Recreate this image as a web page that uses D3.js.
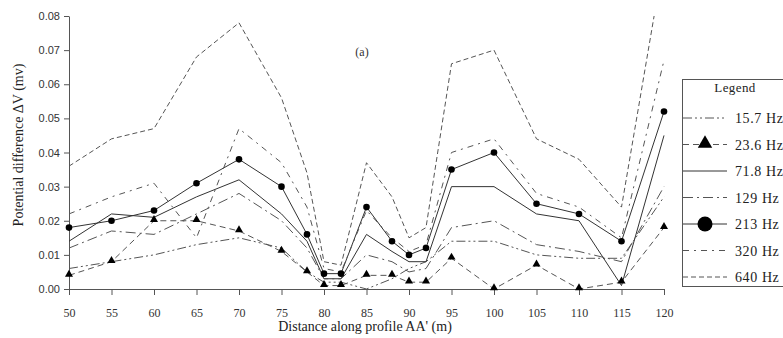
<!DOCTYPE html>
<html>
<head>
<meta charset="utf-8">
<script src="https://cdn.jsdelivr.net/npm/d3@7"></script>
<style>
  body { margin: 0; background: #fff; }
  svg { display: block; }
</style>
</head>
<body>
<div id="chart"></div>
<script>
// Potential difference along profile AA'

var distances = [50, 55, 60, 65, 70, 75, 78, 80, 82, 85, 88, 90, 92, 95, 100, 105, 110, 115, 120];

var hz15_7 = [0.006, 0.008, 0.010, 0.013, 0.015, 0.012, 0.005, 0.002, 0.002, 0.000, 0.003, 0.006, 0.008, 0.014, 0.014, 0.010, 0.009, 0.009, 0.027];
var hz23_6 = [0.004, 0.008, 0.020, 0.020, 0.017, 0.011, 0.005, 0.001, 0.001, 0.004, 0.004, 0.002, 0.002, 0.009, 0.000, 0.007, 0.000, 0.002, 0.018];
var hz71_8 = [0.014, 0.022, 0.021, 0.027, 0.032, 0.022, 0.014, 0.003, 0.003, 0.016, 0.011, 0.008, 0.008, 0.030, 0.030, 0.022, 0.020, 0.001, 0.045];
var hz129  = [0.012, 0.017, 0.016, 0.022, 0.028, 0.020, 0.012, 0.003, 0.003, 0.010, 0.008, 0.005, 0.006, 0.018, 0.020, 0.013, 0.011, 0.008, 0.030];
var hz213  = [0.018, 0.020, 0.023, 0.031, 0.038, 0.030, 0.016, 0.0045, 0.0045, 0.024, 0.014, 0.010, 0.012, 0.035, 0.040, 0.025, 0.022, 0.014, 0.052];
var hz320  = [0.022, 0.027, 0.031, 0.015, 0.047, 0.037, 0.024, 0.006, 0.005, 0.023, 0.015, 0.011, 0.013, 0.040, 0.044, 0.028, 0.024, 0.015, 0.067];
var hz640  = [0.036, 0.044, 0.047, 0.068, 0.078, 0.056, 0.034, 0.008, 0.007, 0.037, 0.027, 0.015, 0.018, 0.066, 0.070, 0.044, 0.038, 0.024, 0.097];

var seriesNames = ["15.7 Hz", "23.6 Hz", "71.8 Hz", "129 Hz", "213 Hz", "320 Hz", "640 Hz"];
var xTicks = [50, 55, 60, 65, 70, 75, 80, 85, 90, 95, 100, 105, 110, 115, 120];
var yTicks = [0, 0.01, 0.02, 0.03, 0.04, 0.05, 0.06, 0.07, 0.08];

var series = [
    {name: seriesNames[0], values: hz15_7, dash: "9,3,2,3,2,3", marker: null},
    {name: seriesNames[1], values: hz23_6, dash: "6,4", marker: "triangle"},
    {name: seriesNames[2], values: hz71_8, dash: null, marker: null},
    {name: seriesNames[3], values: hz129, dash: "10,4,2,4", marker: null},
    {name: seriesNames[4], values: hz213, dash: null, marker: "circle"},
    {name: seriesNames[5], values: hz320, dash: "6,5,2,5", marker: null},
    {name: seriesNames[6], values: hz640, dash: "5,3", marker: null}
];

var svgWidth = 783, svgHeight = 338;
var margin = {left: 69, top: 16};
var plotW = 595, plotH = 273;

var svg = d3.select("#chart")
    .append("svg")
        .attr("width", svgWidth)
        .attr("height", svgHeight);

var x = d3.scaleLinear()
    .domain([50, 120])
    .range([0, plotW]);

var y = d3.scaleLinear()
    .domain([0, 0.08])
    .range([plotH, 0]);

var g = svg.append("g")
    .attr("transform", "translate(" + margin.left + "," + margin.top + ")");

svg.append("clipPath")
    .attr("id", "plotclip")
  .append("rect")
    .attr("x", margin.left - 2)
    .attr("y", margin.top)
    .attr("width", plotW + 4)
    .attr("height", plotH + 4);

// Axes
var xAxis = g.append("g")
    .attr("transform", "translate(0," + plotH + ")")
    .call(d3.axisBottom(x).tickValues(xTicks).tickSize(6).tickPadding(13).tickSizeOuter(0));

var yAxis = g.append("g")
    .call(d3.axisLeft(y).tickValues(yTicks).tickFormat(d3.format(".2f")).tickSize(5).tickPadding(4).tickSizeOuter(0));

[xAxis, yAxis].forEach(function(a) {
    a.select(".domain").attr("stroke", "#555");
    a.selectAll(".tick line").attr("stroke", "#555");
    a.selectAll("text")
        .style("font-family", "'Liberation Sans', Arial, sans-serif")
        .style("font-size", "11px")
        .attr("fill", "#333");
});
xAxis.selectAll("text")
    .style("font-family", "'Liberation Serif', 'Times New Roman', serif")
    .style("font-size", "12px");

// Lines
var line = d3.line()
    .x(function(d, i) { return margin.left + x(distances[i]); })
    .y(function(d) { return margin.top + y(d); });

var lineG = svg.append("g").attr("clip-path", "url(#plotclip)");

lineG.selectAll("path.series")
    .data(series)
    .enter().append("path")
        .attr("class", "series")
        .attr("d", function(s) { return line(s.values); })
        .attr("fill", "none")
        .attr("stroke", function(s) { return s.dash ? "#555" : "#333"; })
        .attr("stroke-width", 1)
        .attr("stroke-dasharray", function(s) { return s.dash; });

var tri = d3.symbol().type(d3.symbolTriangle).size(28);

series.forEach(function(s) {
    if (s.marker === "circle") {
        svg.selectAll(null)
            .data(s.values)
            .enter().append("circle")
                .attr("cx", function(d, i) { return margin.left + x(distances[i]); })
                .attr("cy", function(d) { return margin.top + y(d); })
                .attr("r", 3.3)
                .attr("fill", "#000");
    } else if (s.marker === "triangle") {
        svg.selectAll(null)
            .data(s.values)
            .enter().append("path")
                .attr("d", tri)
                .attr("transform", function(d, i) {
                    return "translate(" + (margin.left + x(distances[i])) + "," + (margin.top + y(d) - 1) + ")";
                })
                .attr("fill", "#000");
    }
});

// Axis titles
svg.append("text")
    .attr("x", 365)
    .attr("y", 331)
    .attr("text-anchor", "middle")
    .style("font-family", "'Liberation Serif', 'Times New Roman', serif")
    .style("font-size", "14px")
    .attr("fill", "#222")
    .text("Distance along profile AA' (m)");

svg.append("text")
    .attr("transform", "translate(23,145)rotate(-90)")
    .attr("text-anchor", "middle")
    .style("font-family", "'Liberation Serif', 'Times New Roman', serif")
    .style("font-size", "14px")
    .attr("fill", "#222")
    .text("Potential difference \u0394V (mv)");

svg.append("text")
    .attr("x", 362)
    .attr("y", 56)
    .attr("text-anchor", "middle")
    .style("font-family", "'Liberation Serif', 'Times New Roman', serif")
    .style("font-size", "12px")
    .attr("fill", "#333")
    .text("(a)");

// Legend
var legendG = svg.append("g")
    .attr("transform", "translate(682,79)");

legendG.append("rect")
    .attr("x", 0.5)
    .attr("y", 0.5)
    .attr("width", 120)
    .attr("height", 207)
    .attr("fill", "#fff")
    .attr("stroke", "#555");

legendG.append("text")
    .attr("x", 53)
    .attr("y", 13)
    .attr("text-anchor", "middle")
    .style("font-family", "'Liberation Serif', 'Times New Roman', serif")
    .style("font-size", "13px")
    .style("letter-spacing", "0.4px")
    .attr("fill", "#222")
    .text("Legend");

var rows = legendG.selectAll("g.row")
    .data(series)
    .enter().append("g")
        .attr("class", "row")
        .attr("transform", function(d, i) { return "translate(0," + (39 + i * 26.5) + ")"; });

rows.append("line")
    .attr("x1", 1)
    .attr("x2", 45)
    .attr("stroke", function(s) { return s.dash ? "#555" : "#333"; })
    .attr("stroke-width", 1)
    .attr("stroke-dasharray", function(s) { return s.dash; });

rows.filter(function(s) { return s.marker === "circle"; })
    .append("circle")
        .attr("cx", 23)
        .attr("r", 7.5)
        .attr("fill", "#000");

rows.filter(function(s) { return s.marker === "triangle"; })
    .append("path")
        .attr("d", d3.symbol().type(d3.symbolTriangle).size(90))
        .attr("transform", "translate(23,-1)")
        .attr("fill", "#000");

rows.append("text")
    .attr("x", 53)
    .attr("y", 5)
    .style("font-family", "'Liberation Serif', 'Times New Roman', serif")
    .style("font-size", "14px")
    .style("letter-spacing", "0.6px")
    .attr("fill", "#222")
    .text(function(s) { return s.name; });
</script>
</body>
</html>
